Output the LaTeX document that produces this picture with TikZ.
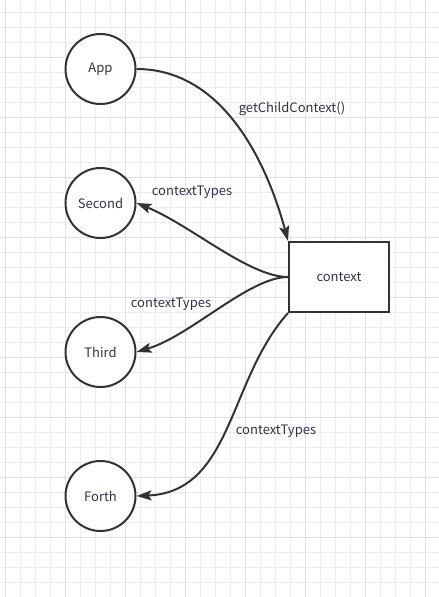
\documentclass[tikz,border=0pt]{standalone}
\usepackage{fontspec}
\setmainfont{Noto Sans CJK SC}
\usetikzlibrary{arrows.meta}
\definecolor{minorgrid}{HTML}{EDEDED}
\definecolor{majorgrid}{HTML}{DFDFDF}
\definecolor{ink}{HTML}{333333}
\definecolor{txt}{HTML}{333340}
\tikzset{
  circ/.style={circle, draw=ink, line width=2pt, minimum size=70pt, inner sep=0pt, fill=white, text=txt, font=\fontsize{13}{15}\selectfont},
  ctxbox/.style={rectangle, draw=ink, line width=2pt, minimum width=100pt, minimum height=70pt, inner sep=0pt, fill=white, text=txt, font=\fontsize{13}{15}\selectfont},
  lbl/.style={text=txt, inner sep=0pt, font=\fontsize{13}{15}\selectfont},
  conn/.style={draw=ink, line width=2pt, -{Stealth[length=15pt,width=10pt,inset=3pt]}},
}
\begin{document}
\begin{tikzpicture}[x=1pt,y=-1pt]
\useasboundingbox (0,0) rectangle (439,597);
\fill[white] (0,0) rectangle (439,597);
% grid
\foreach \k in {0,...,29} {
  \draw[minorgrid, line width=1pt] ({5+15*\k},0) -- ({5+15*\k},597);
}
\foreach \k in {0,...,40} {
  \draw[minorgrid, line width=1pt] (0,{-2.3+15*\k}) -- (439,{-2.3+15*\k});
}
\foreach \k in {0,...,7} {
  \draw[majorgrid, line width=1pt] ({5+60*\k},0) -- ({5+60*\k},597);
}
\foreach \k in {0,...,10} {
  \draw[majorgrid, line width=1pt] (0,{-2.3+60*\k}) -- (439,{-2.3+60*\k});
}
% nodes
\node[circ] (app) at (100.5,69) {App};
\node[circ] (second) at (100.5,203) {Second};
\node[circ] (third) at (100.5,352) {Third};
\node[circ] (forth) at (100.5,496) {Forth};
\node[ctxbox] (ctx) at (339,277) {context};
% connectors
\draw[conn] (app.east) .. controls +(90,0) and +(-19,-71) .. (ctx.north west);
\draw[conn] (ctx.west) .. controls +(-39,0) and +(54,22) .. (second.east);
\draw[conn] (ctx.west) .. controls +(-39,0) and +(54,-16) .. (third.east);
\draw[conn] (ctx.south west) .. controls +(-60,67) and +(96,-4) .. (forth.east);
% labels
\node[lbl] (l1) at (292,109) {getChildContext()};
\node[lbl] (l2) at (192,192) {contextTypes};
\node[lbl] (l3) at (171,304) {contextTypes};
\node[lbl] (l4) at (276,431) {contextTypes};
\end{tikzpicture}
\end{document}
